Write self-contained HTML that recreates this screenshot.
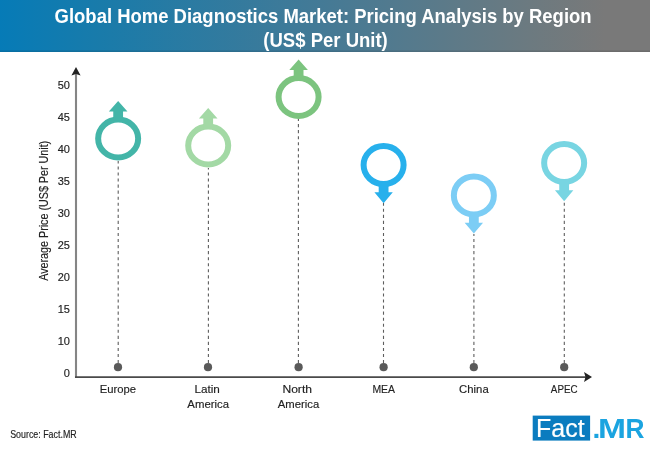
<!DOCTYPE html>
<html><head><meta charset="utf-8">
<style>
html,body{margin:0;padding:0;background:#fff;}
body{width:650px;height:450px;overflow:hidden;position:relative;}
svg{position:absolute;left:0;top:0;will-change:transform;}
text{font-family:"Liberation Sans", sans-serif;}
</style></head>
<body>
<svg width="650" height="450" viewBox="0 0 650 450">
<defs>
<linearGradient id="hg" gradientUnits="userSpaceOnUse" x1="0" y1="0" x2="650" y2="0">
<stop offset="0" stop-color="rgb(6,123,183)"/>
<stop offset="0.154" stop-color="rgb(25,123,170)"/>
<stop offset="0.477" stop-color="rgb(66,122,151)"/>
<stop offset="0.815" stop-color="rgb(108,122,128)"/>
<stop offset="0.93" stop-color="rgb(121,121,121)"/>
<stop offset="1" stop-color="rgb(121,121,121)"/>
</linearGradient>
</defs>
<rect x="0" y="0" width="650" height="52" fill="url(#hg)"/>
<rect x="0" y="50.5" width="650" height="1.5" fill="#000" fill-opacity="0.1"/>
<text x="54.6" y="22.6" font-size="19.5" font-weight="bold" fill="#fff" textLength="537" lengthAdjust="spacingAndGlyphs">Global Home Diagnostics Market: Pricing Analysis by Region</text>
<text x="263.3" y="46.7" font-size="19.5" font-weight="bold" fill="#fff" textLength="124.5" lengthAdjust="spacingAndGlyphs">(US$ Per Unit)</text>

<!-- axes -->
<line x1="76" y1="74" x2="76" y2="377.8" stroke="#858585" stroke-width="2.1"/>
<path d="M76 67 L80.6 75.5 L76 74 L71.4 75.5 Z" fill="#222"/>
<line x1="75" y1="377.2" x2="586" y2="377.2" stroke="#4a4a4a" stroke-width="1.7"/>
<path d="M592 377 L584 372 L585.5 377 L584 382 Z" fill="#222"/>

<!-- y labels -->
<g font-size="11" fill="#222" stroke="#222" stroke-width="0.15" text-anchor="end" transform="translate(0.6,0)">
<text x="69.3" y="88.9">50</text>
<text x="69.3" y="120.9">45</text>
<text x="69.3" y="152.9">40</text>
<text x="69.3" y="184.9">35</text>
<text x="69.3" y="216.9">30</text>
<text x="69.3" y="248.9">25</text>
<text x="69.3" y="280.9">20</text>
<text x="69.3" y="312.9">15</text>
<text x="69.3" y="344.9">10</text>
<text x="69.3" y="376.8">0</text>
</g>
<text transform="translate(48.3,280.8) rotate(-90)" font-size="12" fill="#222" stroke="#222" stroke-width="0.15" textLength="140" lengthAdjust="spacingAndGlyphs">Average Price (US$ Per Unit)</text>

<!-- dashed lines -->
<g stroke="#5e5e5e" stroke-width="1.1" stroke-dasharray="3.1 2.95">
<line x1="118.2" y1="363.1" x2="118.2" y2="161"/>
<line x1="208.4" y1="363.1" x2="208.4" y2="168"/>
<line x1="298.4" y1="363.1" x2="298.4" y2="119"/>
<line x1="383.5" y1="363.1" x2="383.5" y2="203"/>
<line x1="473.9" y1="363.1" x2="473.9" y2="234"/>
<line x1="564.3" y1="363.1" x2="564.3" y2="201"/>
</g>
<g fill="#5a5a5a">
<circle cx="118" cy="367.2" r="4.1"/>
<circle cx="208" cy="367.2" r="4.1"/>
<circle cx="298.6" cy="367.2" r="4.1"/>
<circle cx="383.6" cy="367.2" r="4.1"/>
<circle cx="473.8" cy="367.2" r="4.1"/>
<circle cx="564.2" cy="367.2" r="4.1"/>
</g>

<!-- markers -->
<g transform="translate(118.15,138.5)" fill="#43b5a8">
<ellipse rx="20" ry="19" fill="none" stroke="#43b5a8" stroke-width="6"/>
<path d="M0 -37.6 L9.3 -27 L4.9 -27 L4.9 -18 L-4.9 -18 L-4.9 -27 L-9.3 -27 Z"/>
</g>
<g transform="translate(208.2,145.5)" fill="#a3d9a5">
<ellipse rx="20" ry="19" fill="none" stroke="#a3d9a5" stroke-width="6"/>
<path d="M0 -37.6 L9.3 -27 L4.9 -27 L4.9 -18 L-4.9 -18 L-4.9 -27 L-9.3 -27 Z"/>
</g>
<g transform="translate(298.6,97)" fill="#7cc47f">
<ellipse rx="20" ry="19" fill="none" stroke="#7cc47f" stroke-width="6"/>
<path d="M0 -37.6 L9.3 -27 L4.9 -27 L4.9 -18 L-4.9 -18 L-4.9 -27 L-9.3 -27 Z"/>
</g>
<g transform="translate(383.6,165.05)" fill="#27b0ec">
<ellipse rx="20" ry="19" fill="none" stroke="#27b0ec" stroke-width="6"/>
<path d="M0 38.2 L9.2 27.3 L4.9 27.3 L4.9 18 L-4.9 18 L-4.9 27.3 L-9.2 27.3 Z"/>
</g>
<g transform="translate(473.85,195.4)" fill="#7ccdf5">
<ellipse rx="20" ry="19" fill="none" stroke="#7ccdf5" stroke-width="6"/>
<path d="M0 38.2 L9.2 27.3 L4.9 27.3 L4.9 18 L-4.9 18 L-4.9 27.3 L-9.2 27.3 Z"/>
</g>
<g transform="translate(564.15,163)" fill="#78d5e2">
<ellipse rx="20" ry="19" fill="none" stroke="#78d5e2" stroke-width="6"/>
<path d="M0 38.2 L9.2 27.3 L4.9 27.3 L4.9 18 L-4.9 18 L-4.9 27.3 L-9.2 27.3 Z"/>
</g>
<!-- x labels -->
<g font-size="11.5" fill="#222" stroke="#222" stroke-width="0.15" text-anchor="middle">
<text x="118.0" y="393" textLength="36.3" lengthAdjust="spacingAndGlyphs">Europe</text>
<text x="207.1" y="393" textLength="25.4" lengthAdjust="spacingAndGlyphs">Latin</text>
<text x="208.2" y="407.5" textLength="41.7" lengthAdjust="spacingAndGlyphs">America</text>
<text x="297.2" y="393" textLength="29.6" lengthAdjust="spacingAndGlyphs">North</text>
<text x="298.5" y="407.5" textLength="41.4" lengthAdjust="spacingAndGlyphs">America</text>
<text x="383.7" y="393" textLength="22.6" lengthAdjust="spacingAndGlyphs">MEA</text>
<text x="473.9" y="393" textLength="29.6" lengthAdjust="spacingAndGlyphs">China</text>
<text x="564.2" y="393" textLength="26.7" lengthAdjust="spacingAndGlyphs">APEC</text>
</g>

<text x="10.2" y="438.2" font-size="10.2" fill="#222" stroke="#222" stroke-width="0.15" textLength="66.5" lengthAdjust="spacingAndGlyphs">Source: Fact.MR</text>

<!-- logo -->
<rect x="532.7" y="415.6" width="57.4" height="25" fill="#0b7cbf"/>
<text x="536.1" y="437.4" font-size="26.5" fill="#fff" stroke="#fff" stroke-width="0.2" textLength="48.5" lengthAdjust="spacingAndGlyphs">Fact</text>
<g font-size="28" font-weight="bold" fill="#1ba4e0">
<text x="592.6" y="437.7">.</text>
<text x="598" y="437.7" textLength="28" lengthAdjust="spacingAndGlyphs">M</text>
<text x="625.6" y="437.7" textLength="19" lengthAdjust="spacingAndGlyphs">R</text>
</g>
</svg>
</body></html>
